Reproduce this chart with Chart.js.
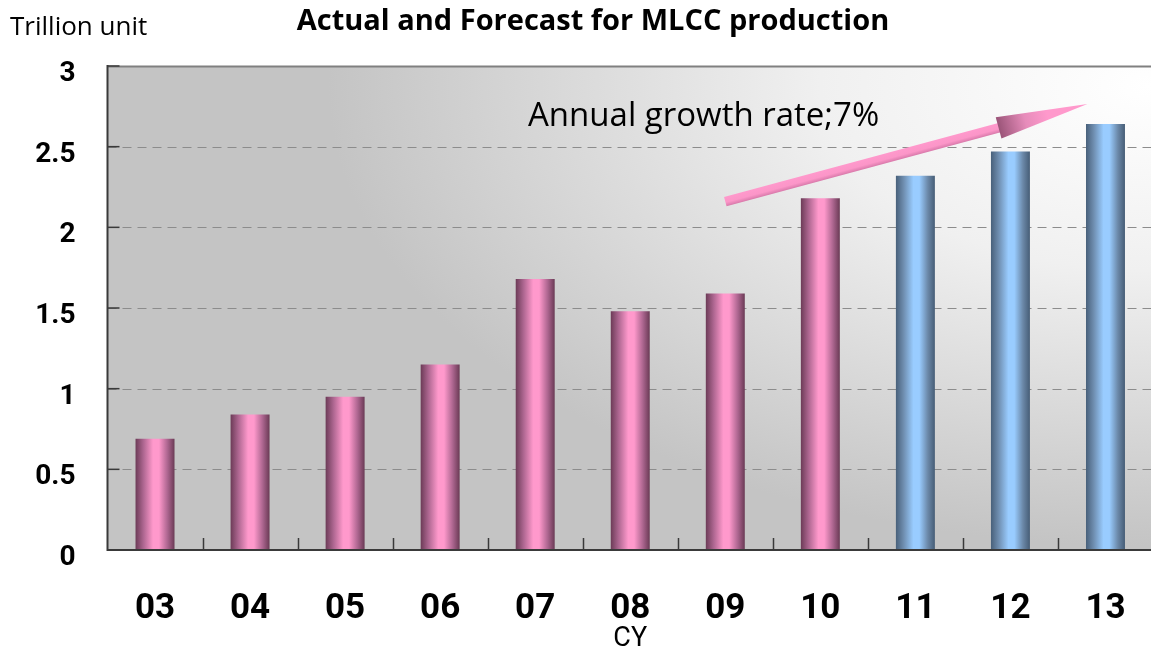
<!DOCTYPE html>
<html>
<head>
<meta charset="utf-8">
<script src="https://cdn.jsdelivr.net/npm/chart.js@4.4.1/dist/chart.umd.min.js"></script>
<style>
  html, body { margin: 0; padding: 0; background: #fff; overflow: hidden; }
  #wrap { width: 1153px; height: 653px; position: relative; }
</style>
</head>
<body>
<div id="wrap"><canvas id="mlcc-chart"></canvas></div>
<script>
// data
const categories = ['03', '04', '05', '06', '07', '08', '09', '10', '11', '12', '13'];
const production = [0.69, 0.84, 0.95, 1.15, 1.68, 1.48, 1.59, 2.18, 2.32, 2.47, 2.64];
const isForecast = [false, false, false, false, false, false, false, false, true, true, true];
const yTickValues = [0, 0.5, 1, 1.5, 2, 2.5, 3];

const chartTitle = 'Actual and Forecast for MLCC production';
const unitLabel = 'Trillion unit';
const growthLabel = 'Annual growth rate;7%';
// arrow ends in data units: [category index, value]
const arrowFrom = [6.0, 2.16];
const arrowTo = [9.81, 2.765];

const BAR_FRACTION = 0.41;

function barGradient(c) {
    const chart = c.chart;
    const forecast = isForecast[c.dataIndex];
    const flat = forecast ? '#99ccff' : '#ff99cc';
    if (!chart.chartArea || c.dataIndex === undefined) return flat;
    const xs = chart.scales.x;
    const cx = xs.getPixelForValue(c.dataIndex);
    const w = xs.width / categories.length * BAR_FRACTION;
    const g = chart.ctx.createLinearGradient(cx - w / 2, 0, cx + w / 2, 0);
    if (forecast) {
        g.addColorStop(0, '#48607a');
        g.addColorStop(0.2, '#6f8eb0');
        g.addColorStop(0.45, '#99ccff');
        g.addColorStop(0.6, '#99ccff');
        g.addColorStop(0.82, '#6b88a8');
        g.addColorStop(1, '#465d76');
    } else {
        g.addColorStop(0, '#6c3b57');
        g.addColorStop(0.2, '#ad6690');
        g.addColorStop(0.45, '#ff99cc');
        g.addColorStop(0.6, '#ff99cc');
        g.addColorStop(0.82, '#ad6690');
        g.addColorStop(1, '#6a3a55');
    }
    return g;
}

const backdrop = {
    id: 'backdrop',
    beforeDraw(chart) {
        const ctx = chart.ctx;
        const {left, top, right, bottom} = chart.chartArea;
        ctx.save();
        ctx.fillStyle = '#fff';
        ctx.fillRect(0, 0, chart.width, chart.height);
        ctx.beginPath();
        ctx.rect(left, top, right - left, bottom - top);
        ctx.clip();
        const rx = 820, ry = 460;
        ctx.translate(right - 5, top + 20);
        ctx.scale(rx / ry, 1);
        const g = ctx.createRadialGradient(0, 0, 0, 0, 0, ry);
        g.addColorStop(0, '#ffffff');
        g.addColorStop(0.4, '#f0f0f0');
        g.addColorStop(0.7, '#dadada');
        g.addColorStop(1, '#c4c4c4');
        ctx.fillStyle = g;
        ctx.fillRect(-3000, -3000, 6000, 6000);
        ctx.restore();
    },
    beforeDatasetsDraw(chart) {
        const ctx = chart.ctx;
        const ys = chart.scales.y;
        const {left, right} = chart.chartArea;
        ctx.save();
        ys.ticks.forEach(t => {
            if (t.value === 0) return;
            const y = Math.round(ys.getPixelForValue(t.value)) + 0.5;
            ctx.beginPath();
            if (t.value === ys.max) {
                ctx.setLineDash([]);
                ctx.strokeStyle = '#808080';
                ctx.lineWidth = 2;
            } else {
                ctx.setLineDash([9, 6]);
                ctx.strokeStyle = '#8c8c8c';
                ctx.lineWidth = 1;
            }
            ctx.moveTo(left, y);
            ctx.lineTo(right, y);
            ctx.stroke();
        });
        ctx.restore();
    },
    afterDatasetsDraw(chart) {
        const ctx = chart.ctx;
        const xs = chart.scales.x, ys = chart.scales.y;
        const {left, top, bottom} = chart.chartArea;
        ctx.save();
        // axis lines
        ctx.strokeStyle = '#3a3a3a';
        ctx.lineWidth = 2;
        ctx.beginPath();
        ctx.moveTo(left, top - 1);
        ctx.lineTo(left, bottom);
        ctx.lineTo(chart.width, bottom);
        ctx.stroke();
        // inward tick marks
        ctx.lineWidth = 1.5;
        ys.ticks.forEach(t => {
            const y = ys.getPixelForValue(t.value);
            ctx.beginPath();
            ctx.moveTo(left, y);
            ctx.lineTo(left + 12, y);
            ctx.stroke();
        });
        for (let i = 1; i < categories.length; i++) {
            const x = Math.round(xs.getPixelForValue(i - 0.5)) + 0.5;
            ctx.beginPath();
            ctx.moveTo(x, bottom);
            ctx.lineTo(x, bottom - 12);
            ctx.stroke();
        }
        // growth arrow
        const x0 = xs.getPixelForValue(arrowFrom[0]), y0 = ys.getPixelForValue(arrowFrom[1]);
        const x1 = xs.getPixelForValue(arrowTo[0]), y1 = ys.getPixelForValue(arrowTo[1]);
        const len = Math.hypot(x1 - x0, y1 - y0);
        const ux = (x1 - x0) / len, uy = (y1 - y0) / len;
        const nx = -uy, ny = ux;
        const headLen = 92, shaft = 4.8, head = 11;
        const bx = x1 - ux * headLen, by = y1 - uy * headLen;
        const sg = ctx.createLinearGradient(x0 - nx * shaft, y0 - ny * shaft, x0 + nx * shaft, y0 + ny * shaft);
        sg.addColorStop(0, '#ff99cc');
        sg.addColorStop(0.6, '#fb96c8');
        sg.addColorStop(1, '#d97aab');
        ctx.fillStyle = sg;
        ctx.beginPath();
        ctx.moveTo(x0 - nx * shaft, y0 - ny * shaft);
        ctx.lineTo(bx - nx * shaft + ux, by - ny * shaft + uy);
        ctx.lineTo(bx + nx * shaft + ux, by + ny * shaft + uy);
        ctx.lineTo(x0 + nx * shaft, y0 + ny * shaft);
        ctx.closePath();
        ctx.fill();
        const hg = ctx.createLinearGradient(bx, by, x1, y1);
        hg.addColorStop(0, '#9a5478');
        hg.addColorStop(0.3, '#e68cba');
        hg.addColorStop(0.55, '#ff99cc');
        hg.addColorStop(1, '#ff99cc');
        ctx.fillStyle = hg;
        ctx.beginPath();
        ctx.moveTo(bx - nx * head, by - ny * head);
        ctx.lineTo(x1, y1);
        ctx.lineTo(bx + nx * head, by + ny * head);
        ctx.closePath();
        ctx.fill();
        ctx.restore();
    },
    afterDraw(chart) {
        const ctx = chart.ctx;
        ctx.save();
        ctx.fillStyle = '#000';
        ctx.textBaseline = 'alphabetic';
        ctx.textAlign = 'center';
        ctx.font = 'bold 29px "Open Sans"';
        ctx.fillText(chartTitle, 593, 30);
        ctx.textAlign = 'left';
        ctx.font = '26px "Open Sans"';
        ctx.fillText(unitLabel, 10, 35);
        ctx.font = '33px "Open Sans"';
        ctx.fillText(growthLabel, 528, 126);
        ctx.restore();
    }
};

const ctx = document.getElementById('mlcc-chart').getContext('2d');
const mlccChart = new Chart(ctx, {
    type: 'bar',
    data: {
        labels: categories,
        datasets: [{
            label: 'MLCC production',
            data: production,
            backgroundColor: barGradient,
            borderWidth: 0,
            categoryPercentage: 1,
            barPercentage: BAR_FRACTION
        }]
    },
    options: {
        responsive: true,
        maintainAspectRatio: false,
        animation: false,
        layout: { padding: { top: 66, left: 0, right: 0, bottom: 0 } },
        plugins: {
            legend: { display: false },
            title: { display: false },
            tooltip: { enabled: false }
        },
        scales: {
            x: {
                grid: { display: false, drawTicks: false },
                border: { display: false },
                ticks: {
                    color: '#000',
                    padding: 38,
                    font: { family: 'Roboto', weight: 'bold', size: 35 }
                },
                title: {
                    display: true,
                    text: 'CY',
                    color: '#000',
                    padding: 0,
                    font: { family: 'Roboto', size: 27, lineHeight: 1 }
                },
                afterFit(scale) {
                    scale.height = 103;
                    scale.paddingLeft = 0;
                    scale.paddingRight = 0;
                }
            },
            y: {
                min: 0,
                max: 3,
                afterBuildTicks(scale) {
                    scale.ticks = yTickValues.map(v => ({ value: v }));
                },
                grid: { display: false, drawTicks: false },
                border: { display: false },
                ticks: {
                    color: '#000',
                    padding: 32,
                    labelOffset: 8,
                    font: { family: 'Roboto', weight: 'bold', size: 28 },
                    callback: v => String(v)
                },
                afterFit(scale) {
                    scale.width = 107.5;
                    scale.paddingTop = 0;
                    scale.paddingBottom = 0;
                }
            }
        }
    },
    plugins: [backdrop]
});
</script>
</body>
</html>
